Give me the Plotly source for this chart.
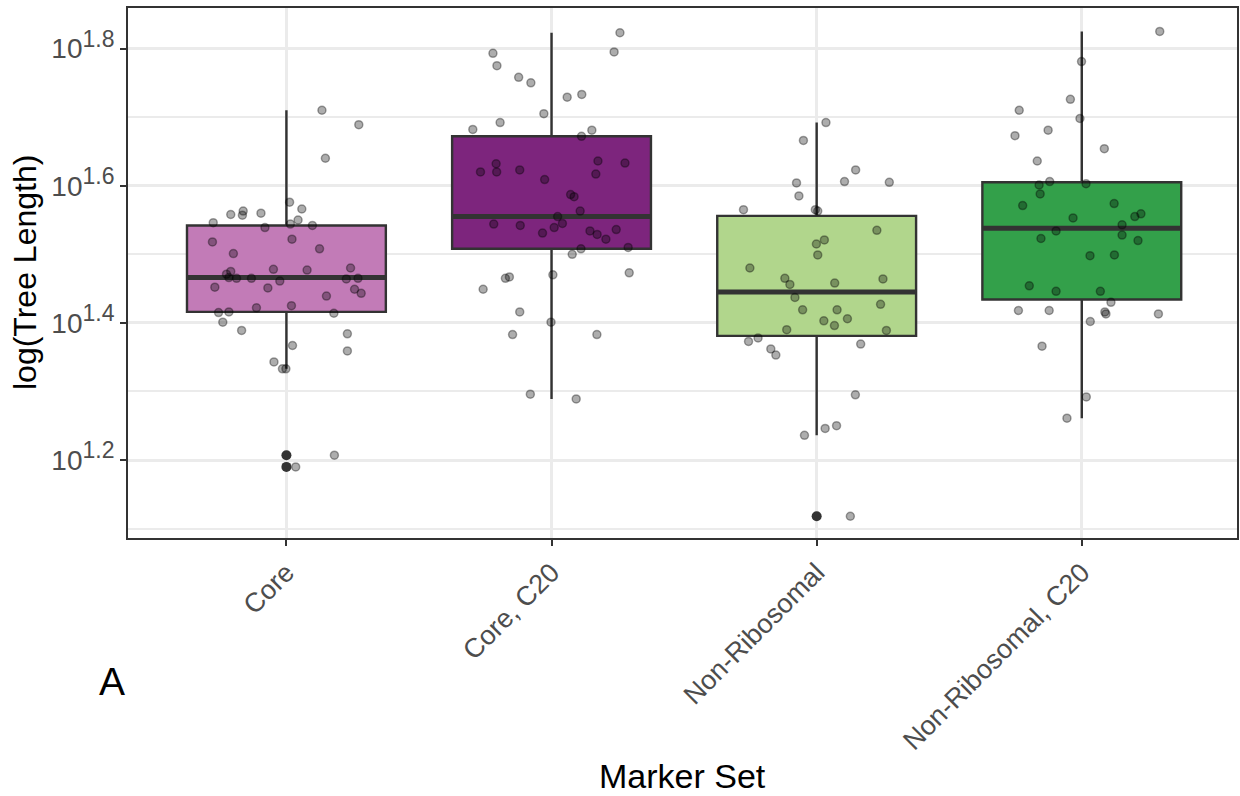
import plotly.graph_objects as go

# ---------------- data (log10 tree length) ----------------
categories = ["Core", "Core, C20", "Non-Ribosomal", "Non-Ribosomal, C20"]
fill_colors = ["#C27BB7", "#7D257D", "#B1D68C", "#33A04A"]

# box statistics (log10 values)
q1_log = [1.416, 1.508, 1.381, 1.434]
median_log = [1.466, 1.555, 1.445, 1.538]
q3_log = [1.542, 1.672, 1.556, 1.605]
lower_log = [1.333, 1.289, 1.236, 1.261]
upper_log = [1.710, 1.823, 1.692, 1.825]

# outliers (log10 values)
outlier_group = [1, 1, 3]
outlier_log = [1.207, 1.190, 1.118]

# jittered observations: horizontal jitter (category units) and log10 value
core_jit = [0.134, 0.273, 0.147, 0.012, 0.058, -0.210, -0.163, -0.166, -0.096, -0.276,
            0.044, 0.015, 0.098, -0.081, -0.279, 0.021, 0.125, -0.200, 0.242, -0.049,
            0.078, -0.210, -0.226, -0.217, -0.188, -0.132, -0.025, 0.226, 0.270, -0.270,
            -0.070, 0.257, 0.282, 0.151, -0.256, -0.217, -0.113, 0.019, 0.179, -0.240,
            -0.169, 0.230, 0.023, 0.230, -0.047, -0.015, -0.002, 0.181, 0.035]
core_val = [1.710, 1.689, 1.640, 1.576, 1.566, 1.558, 1.563, 1.557, 1.560, 1.546,
            1.550, 1.544, 1.542, 1.539, 1.518, 1.522, 1.508, 1.501, 1.480, 1.478,
            1.477, 1.475, 1.471, 1.466, 1.465, 1.465, 1.461, 1.464, 1.465, 1.452,
            1.451, 1.449, 1.443, 1.439, 1.415, 1.416, 1.422, 1.425, 1.414, 1.401,
            1.389, 1.384, 1.367, 1.359, 1.343, 1.333, 1.333, 1.207, 1.190]

core20_jit = [0.258, -0.221, 0.236, -0.206, -0.124, -0.078, 0.059, 0.114, -0.029, -0.194,
              -0.297, 0.152, 0.113, -0.209, -0.268, -0.207, -0.120, 0.175, 0.277, 0.167,
              -0.026, 0.072, 0.085, 0.108, 0.023, -0.218, -0.118, -0.034, 0.010, 0.041,
              0.145, 0.172, 0.205, 0.244, 0.111, 0.289, 0.078, -0.174, -0.159, 0.005,
              -0.258, 0.293, -0.120, -0.002, -0.147, 0.171, -0.080, 0.093]
core20_val = [1.823, 1.793, 1.795, 1.775, 1.758, 1.750, 1.729, 1.733, 1.705, 1.692,
              1.682, 1.681, 1.672, 1.632, 1.620, 1.620, 1.623, 1.636, 1.633, 1.617,
              1.609, 1.587, 1.584, 1.563, 1.555, 1.544, 1.542, 1.531, 1.539, 1.545,
              1.534, 1.529, 1.522, 1.536, 1.508, 1.510, 1.500, 1.465, 1.467, 1.470,
              1.449, 1.473, 1.416, 1.401, 1.383, 1.383, 1.296, 1.289]

nonrib_jit = [0.035, -0.050, 0.147, -0.076, 0.105, 0.274, -0.067, -0.276, -0.005, 0.004,
              0.227, -0.001, 0.029, 0.004, -0.252, -0.120, -0.101, 0.068, 0.250, -0.082,
              -0.053, 0.077, 0.241, 0.027, 0.067, 0.116, -0.113, 0.263, -0.257, -0.221,
              -0.173, -0.154, 0.166, 0.146, -0.046, 0.032, 0.075, 0.127]
nonrib_val = [1.692, 1.666, 1.623, 1.604, 1.606, 1.605, 1.585, 1.565, 1.565, 1.563,
              1.535, 1.515, 1.521, 1.499, 1.480, 1.465, 1.456, 1.458, 1.464, 1.437,
              1.419, 1.419, 1.427, 1.403, 1.396, 1.406, 1.390, 1.389, 1.373, 1.378,
              1.362, 1.353, 1.369, 1.295, 1.236, 1.246, 1.250, 1.118]

nonrib20_jit = [0.294, -0.001, -0.043, -0.236, -0.007, -0.252, -0.127, 0.085, -0.168, -0.121,
                -0.161, 0.016, -0.157, -0.223, 0.122, -0.033, 0.200, 0.223, 0.152, -0.097,
                -0.154, 0.152, 0.212, 0.031, 0.123, -0.198, -0.097, 0.070, 0.110, -0.239,
                -0.123, 0.087, 0.091, 0.289, 0.032, -0.150, 0.017, -0.056]
nonrib20_val = [1.825, 1.781, 1.726, 1.710, 1.698, 1.673, 1.681, 1.654, 1.636, 1.606,
                1.601, 1.603, 1.588, 1.571, 1.574, 1.553, 1.555, 1.559, 1.543, 1.534,
                1.523, 1.528, 1.520, 1.498, 1.499, 1.454, 1.446, 1.446, 1.430, 1.418,
                1.418, 1.416, 1.413, 1.413, 1.402, 1.366, 1.292, 1.261]

jitter_sets = [(core_jit, core_val), (core20_jit, core20_val),
               (nonrib_jit, nonrib_val), (nonrib20_jit, nonrib20_val)]

ytick_logs = [1.2, 1.4, 1.6, 1.8]
yminor_logs = [1.1, 1.3, 1.5, 1.7]

# ---------------- figure ----------------
BOX_W = 0.75
FONT = "Liberation Sans, Arial, Helvetica, sans-serif"
DARK = "#333333"

fig = go.Figure()

for i, cat in enumerate(categories):
    xpos = i + 1
    fig.add_trace(go.Box(
        x=[xpos],
        q1=[10 ** q1_log[i]], median=[10 ** median_log[i]], q3=[10 ** q3_log[i]],
        lowerfence=[10 ** lower_log[i]], upperfence=[10 ** upper_log[i]],
        width=BOX_W, whiskerwidth=0, boxpoints=False,
        fillcolor=fill_colors[i], line=dict(color=DARK, width=2.4),
        name=cat, showlegend=False, hoverinfo="skip",
    ))
    # thicker median bar (ggplot style)
    fig.add_trace(go.Scatter(
        x=[xpos - BOX_W / 2, xpos + BOX_W / 2],
        y=[10 ** median_log[i], 10 ** median_log[i]],
        mode="lines", line=dict(color=DARK, width=5),
        showlegend=False, hoverinfo="skip",
    ))

# outliers
fig.add_trace(go.Scatter(
    x=outlier_group, y=[10 ** v for v in outlier_log],
    mode="markers", marker=dict(color=DARK, size=10, line=dict(width=0)),
    showlegend=False, hoverinfo="skip",
))

# jittered points
for i, (jit, vals) in enumerate(jitter_sets):
    fig.add_trace(go.Scatter(
        x=[i + 1 + d for d in jit], y=[10 ** v for v in vals],
        mode="markers",
        marker=dict(color="rgba(0,0,0,0.32)", size=8,
                    line=dict(color="rgba(0,0,0,0.35)", width=1.5)),
        showlegend=False, hoverinfo="skip",
    ))

fig.update_layout(
    width=1240, height=796,
    margin=dict(l=128, r=1, t=8, b=258),
    paper_bgcolor="white", plot_bgcolor="white",
    font=dict(family=FONT, color="#4D4D4D"),
    xaxis=dict(
        range=[0.4025, 4.5854],
        tickvals=[1, 2, 3, 4], ticktext=categories, tickangle=-45,
        tickfont=dict(size=27, color="#4D4D4D", family=FONT),
        showgrid=True, gridcolor="#EBEBEB", gridwidth=2.7,
        zeroline=False,
        ticks="outside", ticklen=6, tickwidth=2, tickcolor=DARK,
        showline=True, mirror=True, linecolor=DARK, linewidth=1.8,
    ),
    yaxis=dict(
        type="log", range=[1.0863, 1.8591],
        tickvals=[10 ** v for v in ytick_logs],
        ticktext=["10<sup><span style='font-size:23px'>%g</span></sup>" % v
                  for v in ytick_logs],
        tickfont=dict(size=28, color="#4D4D4D", family=FONT),
        showgrid=True, gridcolor="#EBEBEB", gridwidth=2.7,
        minor=dict(tickvals=[10 ** v for v in yminor_logs], showgrid=True,
                   gridcolor="#EBEBEB", gridwidth=1.6, ticks=""),
        zeroline=False,
        ticks="outside", ticklen=6, tickwidth=2, tickcolor=DARK,
        showline=True, mirror=True, linecolor=DARK, linewidth=1.8,
    ),
    annotations=[
        dict(text="Marker Set", xref="paper", yref="paper", x=0.5, y=0,
             yshift=-238, xanchor="center", yanchor="middle", showarrow=False,
             font=dict(size=34, color="black", family=FONT)),
        dict(text="log(Tree Length)", xref="paper", yref="paper", x=0, y=0.5,
             xshift=-103, yshift=0, xanchor="center", yanchor="middle", textangle=-90,
             showarrow=False, font=dict(size=32, color="black", family=FONT)),
        dict(text="A", xref="paper", yref="paper", x=0, y=0,
             xshift=-16, yshift=-143, xanchor="center", yanchor="middle",
             showarrow=False, font=dict(size=39, color="black", family=FONT)),
    ],
)

fig.write_html("out.html")
